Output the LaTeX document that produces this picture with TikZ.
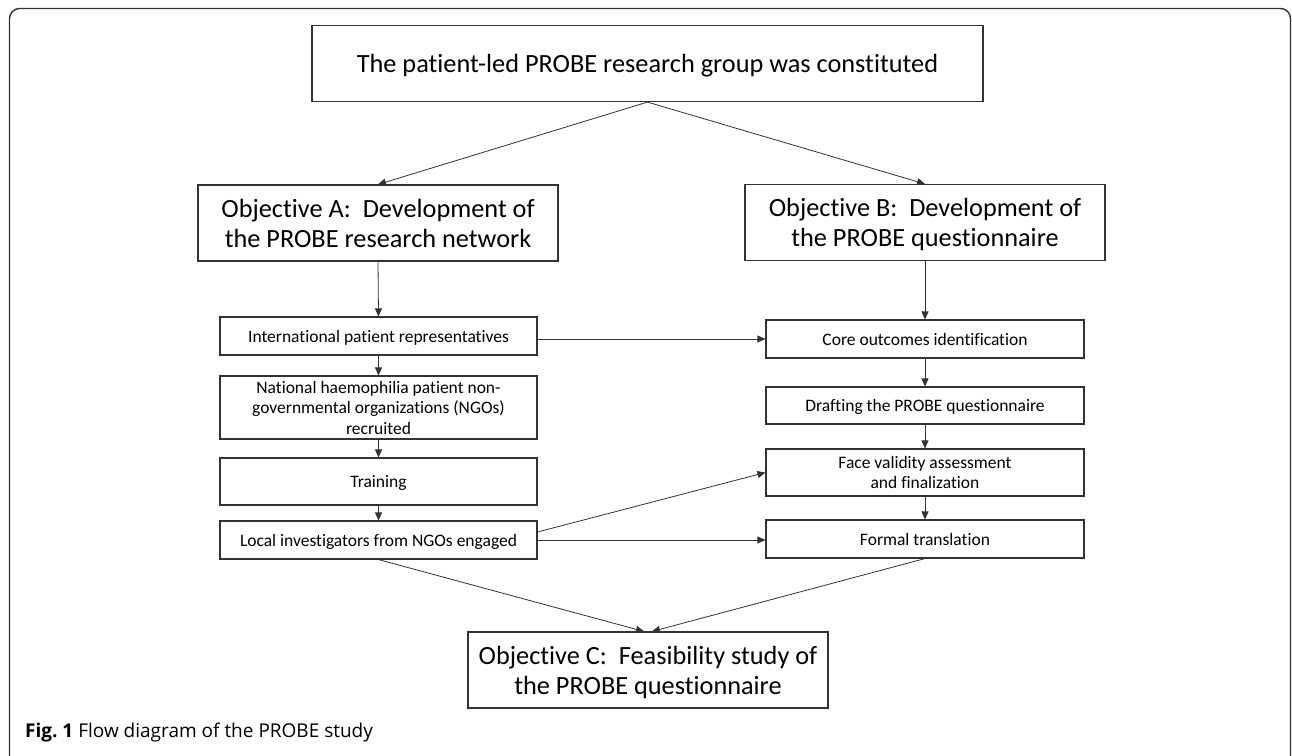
\documentclass[tikz,border=0pt]{standalone}
\usepackage{fontspec}
\setmainfont{Carlito}[RawFeature={-liga}]
\newfontfamily\capfont{Open Sans}
\usetikzlibrary{arrows.meta}
\definecolor{linec}{HTML}{333333}
\begin{document}
\begin{tikzpicture}[x=1pt,y=-1pt,
  bigbox/.style={draw=linec, line width=1.1pt, inner sep=0pt, align=center,
    font=\fontsize{26.3}{30}\selectfont, text=black, text depth=3pt},
  smallbox/.style={draw=linec, line width=1.1pt, inner sep=0pt, align=center,
    font=\fontsize{17.5}{20.5}\selectfont, text=black, text depth=2.35pt},
  conn/.style={draw=linec, line width=0.8pt, -{Triangle[length=8pt,width=7pt]}}]
\clip (0,0) rectangle (1292,755);
\fill[white] (0,0) rectangle (1292,755);
\draw[linec, line width=1.4pt, rounded corners=10pt] (9.5,8.5) rectangle (1290.5,775);
% big boxes
\node[bigbox, minimum width=671pt, minimum height=76.5pt] (top) at (647.5,63.3)
  {\strut The patient-led PROBE research group was constituted};
\node[bigbox, minimum width=360pt, minimum height=76pt] (objA) at (378,223)
  {\strut Objective A:\ \ Development of\\the PROBE research network};
\node[bigbox, minimum width=360pt, minimum height=76pt] (objB) at (925,222.5)
  {\strut Objective B:\ \ Development of\\the PROBE questionnaire};
\node[bigbox, minimum width=360pt, minimum height=76pt] (objC) at (648,670)
  {\strut Objective C:\ \ Feasibility study of\\the PROBE questionnaire};
% left column
\node[smallbox, minimum width=317pt, minimum height=38pt] (intl) at (378.5,336)
  {\strut International patient representatives};
\node[smallbox, minimum width=317pt, minimum height=63pt] (natl) at (378.5,407.5)
  {\strut National haemophilia patient non-\\governmental organizations (NGOs)\\recruited};
\node[smallbox, minimum width=317pt, minimum height=47pt] (train) at (378.5,481.5)
  {\strut Training};
\node[smallbox, minimum width=317pt, minimum height=38pt] (local) at (378.5,540)
  {\strut Local investigators from NGOs engaged};
% right column
\node[smallbox, minimum width=318pt, minimum height=38pt] (core) at (925,339)
  {\strut Core outcomes identification};
\node[smallbox, minimum width=318pt, minimum height=37pt] (draft) at (925,405.5)
  {\strut Drafting the PROBE questionnaire};
\node[smallbox, minimum width=318pt, minimum height=47pt] (face) at (925,472.5)
  {\strut Face validity assessment\\and finalization};
\node[smallbox, minimum width=318pt, minimum height=38pt] (formal) at (925,539)
  {\strut Formal translation};
% caption
\node[anchor=base west, inner sep=0pt, font=\capfont\fontsize{19}{22}\selectfont] (cap) at (25,737)
  {\textbf{Fig.\ 1} Flow diagram of the PROBE study};
% connectors
\draw[conn] (top.south) -- (objA.north);
\draw[conn] (top.south) -- (objB.north);
\draw[conn] (objA.south) -- (intl.north);
\draw[conn] (intl.south) -- (natl.north);
\draw[conn] (natl.south) -- (train.north);
\draw[conn] (train.south) -- (local.north);
\draw[conn] (objB.south) -- (core.north);
\draw[conn] (core.south) -- (draft.north);
\draw[conn] (draft.south) -- (face.north);
\draw[conn] (face.south) -- (formal.north);
\draw[conn] (intl.east |- core.west) -- (core.west);
\draw[conn] ([yshift=8pt]local.east) -- (face.west);
\draw[conn] (local.east) -- (local.east -| formal.west);
\draw[conn] (local.south) -- ([xshift=-4pt]objC.north);
\draw[conn] (formal.south) -- ([xshift=4pt]objC.north);
\end{tikzpicture}
\end{document}
